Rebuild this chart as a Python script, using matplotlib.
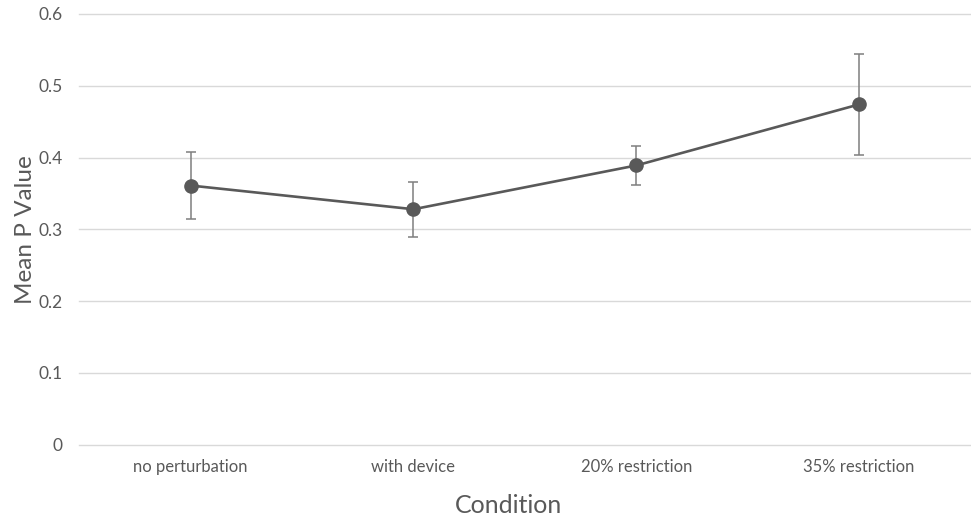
import matplotlib
matplotlib.use("Agg")
import matplotlib.pyplot as plt

categories = ["no perturbation", "with device", "20% restriction", "35% restriction"]
mean_p = [0.361, 0.328, 0.389, 0.474]
err_p = [0.047, 0.038, 0.027, 0.070]
yticks = [0, 0.1, 0.2, 0.3, 0.4, 0.5, 0.6]
ytick_labels = ["0", "0.1", "0.2", "0.3", "0.4", "0.5", "0.6"]

plt.rcParams['font.family'] = ['Lato', 'DejaVu Sans']
txt = "#595959"

fig = plt.figure(figsize=(9.71, 5.16), dpi=100)
ax = fig.add_axes([0.0817, 0.1382, 0.9177, 0.8347])

x = list(range(len(categories)))
ax.errorbar(x, mean_p, yerr=err_p, fmt='none', ecolor="#7f7f7f", elinewidth=1.1,
            capsize=3.5, capthick=1.1, zorder=2)
ax.plot(x, mean_p, color="#595959", lw=1.9, marker='o', markersize=9.5,
        markerfacecolor="#595959", markeredgecolor="#595959", zorder=3)

ax.set_xlim(-0.5, len(categories) - 0.5)
ax.set_ylim(0, 0.6)
ax.set_yticks(yticks)
ax.set_yticklabels(ytick_labels)
ax.set_xticks(x)
ax.set_xticklabels(categories)
ax.yaxis.grid(True, color="#d9d9d9", lw=1.0)
for gl in ax.yaxis.get_gridlines():
    gl.set_clip_on(False)
ax.set_axisbelow(True)
for s in ax.spines.values():
    s.set_visible(False)
ax.tick_params(axis='y', length=0, pad=12, labelsize=12.5, labelcolor=txt)
ax.tick_params(axis='x', length=0, pad=10, labelsize=12, labelcolor=txt)
ax.set_ylabel("Mean P Value", fontsize=17.5, color=txt, labelpad=2)
ax.set_xlabel("Condition", fontsize=18, color=txt, labelpad=14)
ax.xaxis.label.set_x(0.482)

fig.savefig("out.png", dpi=100)
